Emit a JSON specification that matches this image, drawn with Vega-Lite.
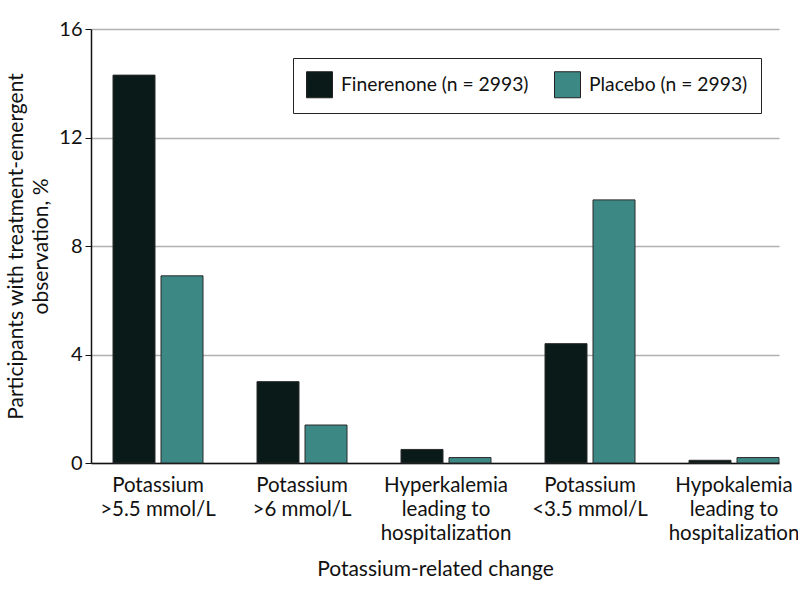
{
  "$schema": "https://vega.github.io/schema/vega-lite/v6.json",
  "autosize": {"type": "none"},
  "width": 688,
  "height": 434,
  "padding": {"left": 91, "top": 29, "right": 19, "bottom": 135},
  "background": "white",
  "config": {
    "font": "Lato, sans-serif",
    "view": {"stroke": null}
  },
  "data": {
    "values": [
      {"change": "Potassium|>5.5 mmol/L", "group": "Finerenone (n = 2993)", "pct": 14.3},
      {"change": "Potassium|>5.5 mmol/L", "group": "Placebo (n = 2993)", "pct": 6.9},
      {"change": "Potassium|>6 mmol/L", "group": "Finerenone (n = 2993)", "pct": 3.0},
      {"change": "Potassium|>6 mmol/L", "group": "Placebo (n = 2993)", "pct": 1.4},
      {"change": "Hyperkalemia|leading to|hospitalization", "group": "Finerenone (n = 2993)", "pct": 0.5},
      {"change": "Hyperkalemia|leading to|hospitalization", "group": "Placebo (n = 2993)", "pct": 0.2},
      {"change": "Potassium|<3.5 mmol/L", "group": "Finerenone (n = 2993)", "pct": 4.4},
      {"change": "Potassium|<3.5 mmol/L", "group": "Placebo (n = 2993)", "pct": 9.7},
      {"change": "Hypokalemia|leading to|hospitalization", "group": "Finerenone (n = 2993)", "pct": 0.1},
      {"change": "Hypokalemia|leading to|hospitalization", "group": "Placebo (n = 2993)", "pct": 0.2}
    ]
  },
  "mark": {"type": "bar", "stroke": "#2b2b2b", "strokeWidth": 1},
  "encoding": {
    "x": {
      "field": "change",
      "type": "nominal",
      "sort": null,
      "scale": {"paddingInner": 0.375, "paddingOuter": 0.0764, "align": 1},
      "axis": {
        "title": "Potassium-related change",
        "titleFontSize": 21,
        "titleFontWeight": "normal",
        "titleColor": "#111",
        "titlePadding": 15,
        "labelExpr": "split(datum.label, '|')",
        "labelAngle": 0,
        "labelFontSize": 20.5,
        "labelColor": "#111",
        "labelLineHeight": 24,
        "labelPadding": 12,
        "labelBaseline": "top",
        "ticks": false,
        "domainColor": "#111",
        "domainWidth": 1.5,
        "labelLimit": 0
      }
    },
    "xOffset": {
      "field": "group",
      "type": "nominal",
      "scale": {"paddingInner": 0.125, "paddingOuter": 0}
    },
    "y": {
      "field": "pct",
      "type": "quantitative",
      "scale": {"domain": [0, 16], "nice": false},
      "axis": {
        "values": [0, 4, 8, 12, 16],
        "title": ["Participants with treatment-emergent", "observation, %"],
        "titleFontSize": 21,
        "titleFontWeight": "normal",
        "titleColor": "#111",
        "titleLineHeight": 25,
        "titlePadding": 7,
        "labelFontSize": 20,
        "labelColor": "#111",
        "labelPadding": 3,
        "tickSize": 6,
        "tickColor": "#111",
        "domainColor": "#111",
        "domainWidth": 1.5,
        "gridColor": "#b0b0b0",
        "gridWidth": 1.5
      }
    },
    "color": {
      "field": "group",
      "type": "nominal",
      "scale": {"range": ["#0a1a19", "#3c8885"]},
      "legend": {
        "title": null,
        "orient": "none",
        "legendX": 202,
        "legendY": 29,
        "direction": "horizontal",
        "strokeColor": "#222",
        "padding": 13,
        "symbolType": "square",
        "symbolSize": 676,
        "symbolStrokeColor": "#222",
        "symbolStrokeWidth": 1,
        "symbolOpacity": 1,
        "labelFontSize": 19.3,
        "labelColor": "#111",
        "labelOffset": 8,
        "columnPadding": 23,
        "labelLimit": 0
      }
    }
  }
}
